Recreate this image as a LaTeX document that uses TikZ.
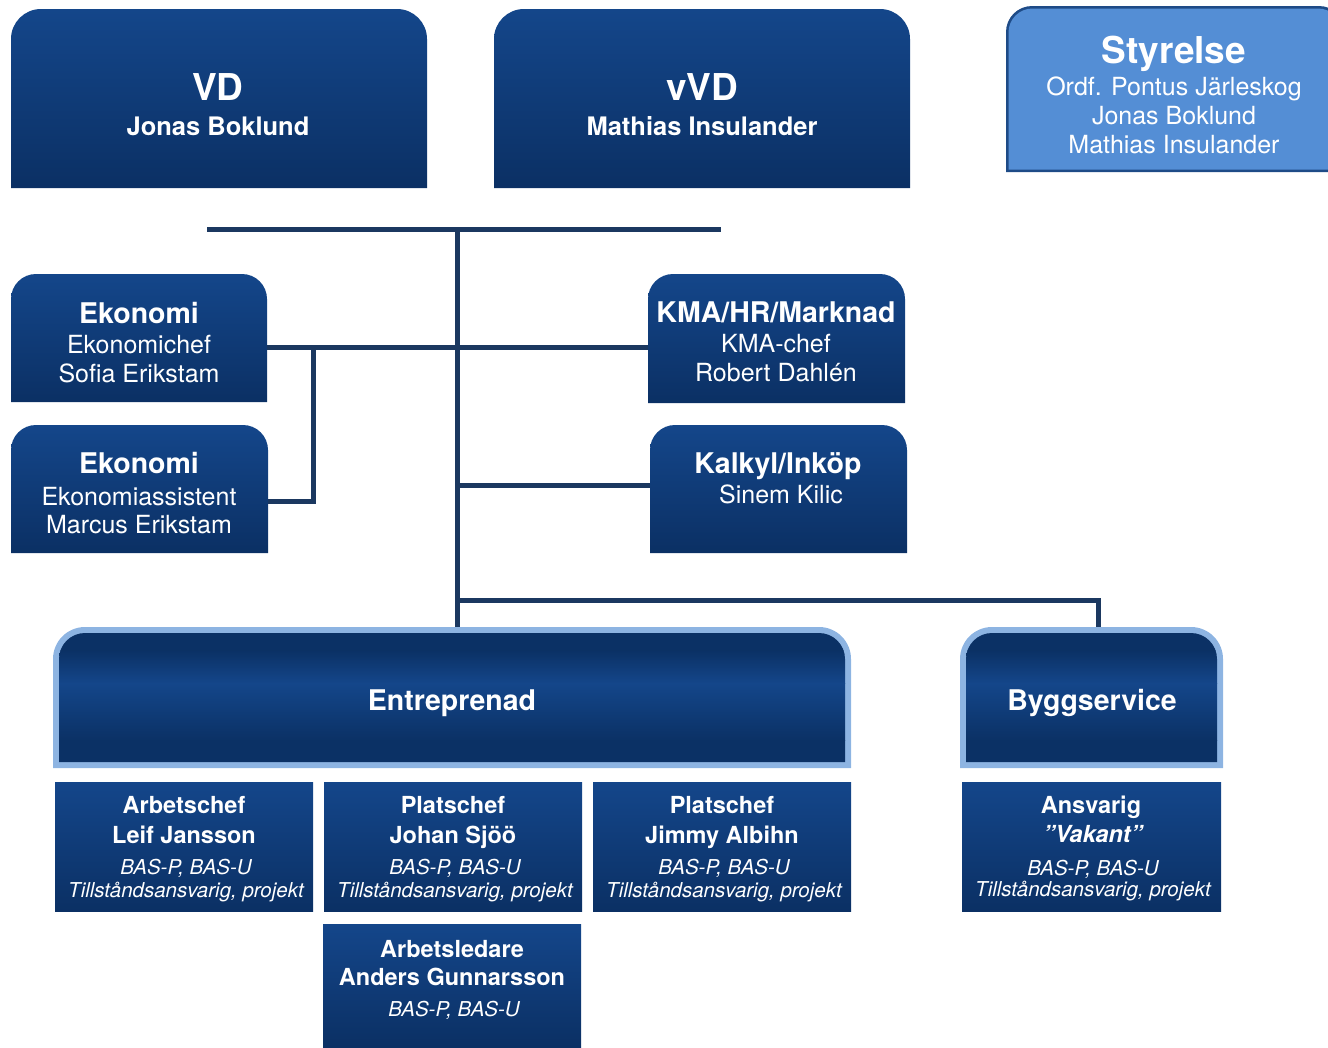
\documentclass[tikz,border=0pt]{standalone}
\usepackage{fontspec}
\setmainfont{TeX Gyre Heros}
\definecolor{boxtop}{RGB}{20,70,138}
\definecolor{boxbot}{RGB}{11,48,100}
\definecolor{glossdark}{RGB}{11,49,101}
\definecolor{glosslight}{RGB}{20,70,138}
\definecolor{linec}{RGB}{27,56,96}
\definecolor{styfill}{RGB}{84,142,213}
\definecolor{styborder}{RGB}{30,75,135}
\definecolor{lightborder}{RGB}{141,180,226}
\tikzset{
  conn/.style={draw=linec, line width=5pt},
  txt/.style={text=white, inner sep=0pt, anchor=base},
  big/.style={txt, font=\bfseries\fontsize{37}{40}\selectfont},
  bsub/.style={txt, font=\bfseries\fontsize{25.5}{28}\selectfont},
  sec/.style={txt, font=\bfseries\fontsize{28.5}{30}\selectfont},
  reg/.style={txt, font=\fontsize{25}{28}\selectfont},
  sbold/.style={txt, font=\bfseries\fontsize{23.5}{26}\selectfont},
  sital/.style={txt, font=\itshape\fontsize{20.5}{23}\selectfont},
  frame/.style={inner sep=0pt, outer sep=0pt, rectangle, draw=none},
}
% #1 name, #2 x1, #3 y1, #4 x2, #5 y2, #6 radius
\newcommand\topbox[6]{%
  \shade[top color=boxtop, bottom color=boxbot]
    [rounded corners=#6pt] (#2,#3) rectangle (#4,#5)
    [sharp corners] (#2,#3+#6) rectangle (#4,#5);
  \node[frame, minimum width={#4-#2}, minimum height={#5-#3}] (#1) at ({(#2+#4)/2},{(#3+#5)/2}) {};
}
\newcommand\flatbox[5]{%
  \shade[top color=boxtop, bottom color=boxbot] (#2,#3) rectangle (#4,#5);
  \node[frame, minimum width={#4-#2}, minimum height={#5-#3}] (#1) at ({(#2+#4)/2},{(#3+#5)/2}) {};
}
% framed gloss box: #1 name, #2 x1, #3 y1, #4 x2, #5 y2
\newcommand\glossbox[5]{%
  \fill[lightborder] [rounded corners=32pt] (#2,#3) rectangle (#4,#5)
    [sharp corners] (#2,#3+32) rectangle (#4,#5);
  \begin{scope}
    \clip [rounded corners=26pt] (#2+6,#3+6) rectangle (#4-6,#5-6)
      [sharp corners] (#2+6,#3+32) rectangle (#4-6,#5-6);
    \fill[glossdark] (#2,#3) rectangle (#4,#3+24);
    \shade[top color=glossdark, bottom color=glosslight] (#2,#3+23.5) rectangle (#4,#3+56.5);
    \shade[top color=glosslight, bottom color=glossdark] (#2,#3+56) rectangle (#4,#3+113.5);
    \fill[glossdark] (#2,#3+113) rectangle (#4,#5);
  \end{scope}
  \node[frame, minimum width={#4-#2}, minimum height={#5-#3}] (#1) at ({(#2+#4)/2},{(#3+#5)/2}) {};
}
\begin{document}
\begin{tikzpicture}[x=1pt, y=-1pt]
\useasboundingbox (0,0) rectangle (1328,1047);

% ---------- top row ----------
\topbox{vd}{11}{9}{427}{188}{30}
\node[big] (vdt1) at (218,100) {VD};
\node[bsub] (vdt2) at (218,135) {Jonas Boklund};

\topbox{vvd}{494}{9}{910}{188}{30}
\node[big] (vvdt1) at (702,100) {vVD};
\node[bsub] (vvdt2) at (702,135) {Mathias Insulander};

% Styrelse
\fill[styborder] [rounded corners=26pt] (1006,6) rectangle (1345,172)
  [sharp corners] (1006,40) rectangle (1345,172);
\fill[styfill] [rounded corners=24pt] (1008.5,8.5) rectangle (1342,169.5)
  [sharp corners] (1008.5,40) rectangle (1342,169.5);
\node[frame, minimum width=322, minimum height=166] (sty) at (1167,89) {};
\node[big] (styt1) at (1174,63) {Styrelse};
\node[reg] (styt2) at (1174,95) {Ordf. Pontus Järleskog};
\node[reg] (styt3) at (1174,124) {Jonas Boklund};
\node[reg] (styt4) at (1174,153) {Mathias Insulander};

% ---------- middle ----------
\topbox{eko1}{11}{274}{267}{402}{25}
\node[sec] (eko1t1) at (139,323) {Ekonomi};
\node[reg] (eko1t2) at (139,353) {Ekonomichef};
\node[reg] (eko1t3) at (139,382) {Sofia Erikstam};

\topbox{eko2}{11}{425}{268}{553}{25}
\node[sec] (eko2t1) at (139,473) {Ekonomi};
\node[reg] (eko2t2) at (139,505) {Ekonomiassistent};
\node[reg] (eko2t3) at (139,533) {Marcus Erikstam};

\topbox{kma}{648}{274}{905}{403}{25}
\node[sec] (kmat1) at (776,322) {KMA/HR/Marknad};
\node[reg] (kmat2) at (776,352) {KMA-chef};
\node[reg] (kmat3) at (776,381) {Robert Dahlén};

\topbox{kalk}{650}{425}{907}{553}{25}
\node[sec] (kalkt1) at (778,473) {Kalkyl/Inköp};
\node[reg] (kalkt2) at (781,503) {Sinem Kilic};

% ---------- departments ----------
\glossbox{entre}{53}{627}{851}{768}
\node[sec] (entret) at (452,710) {Entreprenad};

\glossbox{bygg}{960}{627}{1223}{768}
\node[sec] (byggt) at (1092,710) {Byggservice};

% ---------- staff boxes ----------
\flatbox{arb}{55}{782}{313}{911}
\node[sbold] (arbt1) at (184,813) {Arbetschef};
\node[sbold] (arbt2) at (184,843) {Leif Jansson};
\node[sital] (arbt3) at (186,874) {BAS-P, BAS-U};
\node[sital] (arbt4) at (186,897) {Tillståndsansvarig, projekt};

\flatbox{plat1}{324}{782}{582}{911}
\node[sbold] (plat1t1) at (453,813) {Platschef};
\node[sbold] (plat1t2) at (453,843) {Johan Sjöö};
\node[sital] (plat1t3) at (455,874) {BAS-P, BAS-U};
\node[sital] (plat1t4) at (455,897) {Tillståndsansvarig, projekt};

\flatbox{plat2}{593}{782}{851}{911}
\node[sbold] (plat2t1) at (722,813) {Platschef};
\node[sbold] (plat2t2) at (722,843) {Jimmy Albihn};
\node[sital] (plat2t3) at (724,874) {BAS-P, BAS-U};
\node[sital] (plat2t4) at (724,897) {Tillståndsansvarig, projekt};

\flatbox{ansv}{962}{782}{1221}{911}
\node[sbold] (ansvt1) at (1091,813) {Ansvarig};
\node[sbold, font=\bfseries\itshape\fontsize{23.5}{26}\selectfont] (ansvt2) at (1093,842) {”Vakant”};
\node[sital] (ansvt3) at (1093,875) {BAS-P, BAS-U};
\node[sital] (ansvt4) at (1093,896) {Tillståndsansvarig, projekt};

\flatbox{ledare}{323}{924}{581}{1047}
\node[sbold] (ledt1) at (452,957) {Arbetsledare};
\node[sbold] (ledt2) at (452,985) {Anders Gunnarsson};
\node[sital] (ledt3) at (454,1016) {BAS-P, BAS-U};

% ---------- connectors ----------
\coordinate (barL) at (207,229);
\coordinate (barR) at (721,229);
\coordinate (barM) at (457,229);
\draw[conn] (barL) -- (barR);
\draw[conn] (barM) -- (barM |- entre.north);

\draw[conn] ([yshift=-9pt]eko1.east) -- ([yshift=-8.5pt]kma.west);
\coordinate (ekoj) at (313,347);
\draw[conn, line join=miter] (ekoj) |- ([yshift=-12pt]eko2.east);

\coordinate (kalkj) at ([yshift=4pt]kalk.west);
\draw[conn] (barM |- kalkj) -- (kalkj);

\coordinate (byggj) at (1098,600);
\draw[conn, line join=miter] (barM |- byggj) -- (byggj) -- (byggj |- bygg.north);
\end{tikzpicture}
\end{document}
